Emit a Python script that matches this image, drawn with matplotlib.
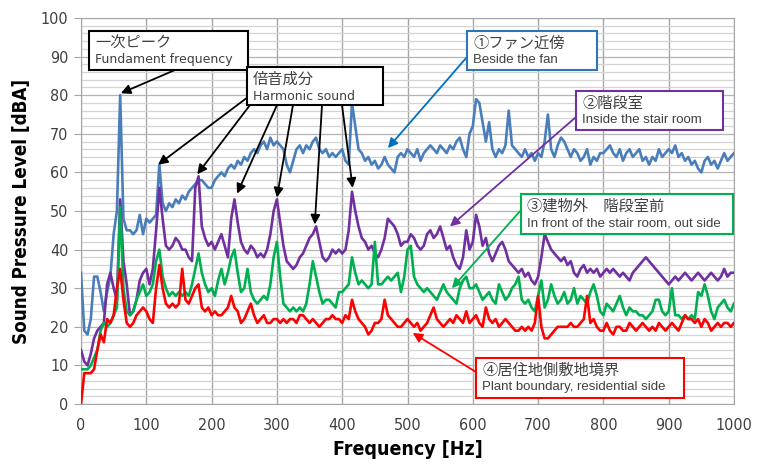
import matplotlib.pyplot as plt
import numpy as np
from matplotlib.patches import Rectangle

# frequency grid, 5 Hz steps
freq = np.arange(0, 1001, 5)

# ① beside the fan
fan = [34, 19, 18, 22, 33, 33, 29, 24, 29, 33, 44, 50, 80, 48, 45, 45, 44, 45, 49, 44,
       48, 47, 48, 49, 62, 52, 50, 52, 51, 53, 52, 54, 53, 55, 56, 57, 58, 58, 57, 56,
       56, 58, 59, 60, 59, 61, 62, 61, 63, 62, 64, 63, 65, 66, 65, 67, 68, 66, 69, 67,
       68, 67, 66, 62, 60, 63, 66, 67, 65, 67, 66, 68, 69, 66, 65, 66, 64, 65, 64, 65,
       66, 63, 62, 78, 72, 66, 65, 63, 64, 62, 63, 61, 62, 64, 62, 61, 60, 64, 65, 64,
       66, 65, 64, 66, 63, 65, 66, 67, 66, 65, 67, 66, 65, 67, 66, 68, 69, 66, 64, 70,
       72, 79, 78, 73, 68, 73, 66, 64, 66, 65, 67, 76, 67, 66, 65, 64, 66, 64, 65, 63,
       65, 64, 68, 75, 66, 64, 67, 69, 68, 66, 64, 66, 65, 63, 64, 66, 62, 64, 63, 65,
       65, 66, 67, 65, 64, 66, 63, 65, 66, 64, 65, 66, 63, 64, 62, 64, 63, 66, 64, 65,
       66, 65, 67, 64, 65, 63, 64, 62, 63, 61, 60, 63, 64, 62, 63, 61, 63, 65, 63, 64,
       65]

# ② inside the stair room
stair = [14, 11, 10, 13, 17, 19, 20, 21, 31, 34, 30, 27, 53, 37, 31, 23, 24, 27, 32, 34,
         35, 31, 35, 45, 56, 48, 41, 40, 41, 43, 42, 40, 40, 38, 37, 56, 59, 46, 43, 41,
         42, 40, 42, 44, 41, 38, 48, 53, 47, 42, 40, 39, 41, 40, 38, 39, 38, 40, 44, 50,
         53, 47, 41, 37, 36, 35, 36, 38, 39, 41, 43, 44, 46, 42, 38, 37, 38, 40, 39, 40,
         39, 40, 45, 55, 50, 46, 43, 42, 40, 41, 39, 38, 40, 43, 48, 47, 46, 44, 41, 42,
         42, 44, 43, 41, 40, 41, 44, 45, 43, 44, 46, 43, 40, 41, 38, 36, 35, 38, 45, 40,
         42, 49, 46, 41, 43, 39, 37, 39, 41, 42, 40, 37, 36, 35, 34, 35, 33, 34, 32, 31,
         33, 38, 44, 42, 40, 39, 38, 37, 38, 36, 37, 34, 33, 35, 36, 34, 35, 34, 35, 33,
         34, 35, 34, 35, 34, 33, 34, 33, 32, 34, 35, 36, 37, 38, 37, 36, 35, 34, 33, 32,
         31, 32, 33, 32, 33, 34, 33, 32, 33, 34, 33, 32, 33, 34, 33, 32, 33, 35, 33, 34,
         34]

# ③ outside, in front of the stair room
outside = [9, 9, 9, 10, 12, 14, 19, 21, 20, 21, 23, 25, 51, 30, 24, 23, 24, 27, 29, 31,
           28, 29, 31, 37, 40, 33, 30, 28, 29, 28, 29, 28, 29, 28, 31, 35, 39, 34, 31, 29,
           30, 28, 32, 35, 31, 34, 38, 40, 34, 29, 30, 35, 29, 27, 26, 27, 28, 27, 31, 38,
           42, 33, 26, 25, 24, 25, 24, 25, 24, 26, 31, 37, 33, 29, 26, 27, 27, 26, 25, 29,
           29, 30, 31, 38, 34, 31, 32, 31, 30, 31, 42, 31, 31, 32, 33, 32, 33, 34, 29, 33,
           40, 41, 33, 31, 30, 29, 30, 29, 28, 27, 29, 31, 29, 28, 27, 26, 30, 32, 33, 30,
           30, 31, 29, 27, 28, 29, 27, 26, 31, 29, 27, 28, 30, 31, 33, 27, 26, 27, 25, 24,
           28, 32, 25, 27, 31, 28, 26, 27, 29, 26, 27, 30, 26, 28, 27, 26, 29, 31, 28, 24,
           23, 26, 25, 24, 26, 28, 25, 23, 25, 24, 24, 23, 23, 22, 23, 24, 27, 27, 24, 23,
           24, 30, 23, 23, 22, 23, 22, 23, 22, 29, 28, 31, 28, 24, 22, 25, 26, 27, 25, 24,
           26]

# ④ plant boundary, residential side
boundary = [0, 8, 8, 8, 9, 14, 18, 16, 22, 21, 23, 30, 35, 27, 21, 20, 21, 23, 24, 25,
            24, 22, 21, 30, 36, 30, 26, 25, 26, 25, 26, 35, 27, 26, 28, 30, 31, 25, 24, 25,
            23, 24, 23, 23, 24, 25, 28, 25, 24, 21, 22, 24, 26, 23, 21, 22, 23, 21, 21, 22,
            22, 21, 22, 21, 22, 22, 21, 23, 23, 22, 21, 22, 21, 20, 21, 22, 22, 23, 22, 22,
            21, 23, 22, 27, 24, 22, 21, 20, 18, 19, 21, 21, 22, 27, 23, 22, 21, 20, 20, 21,
            22, 21, 20, 21, 19, 20, 21, 23, 25, 22, 21, 20, 21, 22, 21, 23, 22, 21, 24, 21,
            22, 23, 21, 20, 25, 22, 21, 22, 20, 21, 22, 21, 20, 19, 19, 20, 19, 20, 19, 21,
            28, 20, 17, 17, 18, 19, 20, 20, 20, 20, 21, 20, 20, 21, 22, 28, 21, 22, 20, 19,
            19, 21, 19, 18, 20, 20, 19, 19, 21, 20, 19, 20, 21, 20, 19, 20, 19, 21, 20, 19,
            20, 21, 20, 19, 21, 23, 22, 22, 21, 22, 20, 22, 21, 19, 20, 21, 20, 21, 21, 20,
            21]

W, H = 763, 465
fig = plt.figure(figsize=(W / 100, H / 100), dpi=100)
ax = fig.add_axes([81 / W, 61 / H, 653 / W, 386 / H])

ax.plot(freq, fan, color='#4a7ebb', lw=1.9, zorder=3)
ax.plot(freq, stair, color='#7030a0', lw=1.9, zorder=3)
ax.plot(freq, outside, color='#00b050', lw=1.9, zorder=3)
ax.plot(freq, boundary, color='#ff0000', lw=1.9, zorder=3)

ax.set_xlim(0, 1000)
ax.set_ylim(0, 100)
ax.set_xticks(np.arange(0, 1001, 100))
ax.set_yticks(np.arange(0, 101, 10))
ax.set_yticks(np.arange(0, 101, 2), minor=True)
ax.grid(axis='x', which='major', color='#a6a6a6', lw=1.0)
ax.grid(axis='y', which='major', color='#b4b4b4', lw=0.9)
ax.grid(axis='y', which='minor', color='#d4d4d4', lw=0.9)
ax.set_axisbelow(True)
for s in ax.spines.values():
    s.set_color('#a6a6a6')
ax.tick_params(axis='x', length=0, pad=10, labelsize=11.5, labelcolor='#404040')
ax.tick_params(axis='y', which='major', length=5, color='#a6a6a6', pad=4,
               labelsize=11.5, labelcolor='#404040')
ax.tick_params(axis='y', which='minor', length=0)
for lab in ax.get_xticklabels() + ax.get_yticklabels():
    lab.set_fontstretch('condensed')

ax.set_xlabel('Frequency [Hz]', fontsize=14, fontweight='bold',
              fontstretch='condensed', labelpad=5)
ax.set_ylabel('Sound Pressure Level [dBA]', fontsize=13.5, fontweight='bold',
              fontstretch='condensed', labelpad=7)


def fpx(x, y):
    return (x / W, 1 - y / H)


def callout(x0, y0, x1, y1, edge, jp, en, en_family, en_size):
    fig.patches.append(Rectangle(fpx(x0, y1), (x1 - x0) / W, (y1 - y0) / H,
                                 transform=fig.transFigure, facecolor='white',
                                 edgecolor=edge, lw=1.5, zorder=5))
    fig.text(*fpx(x0 + 6, y0 + 12), jp, family=['Noto Sans CJK JP', 'DejaVu Sans'],
             fontsize=11, color='#404040', va='center', ha='left', zorder=6)
    fig.text(*fpx(x0 + 6, y0 + 29), en, family=en_family, fontsize=en_size,
             color='#404040', va='center', ha='left', zorder=6)


def arrow(tip_f, tip_v, x, y, color):
    ax.annotate('', xy=(tip_f, tip_v), xycoords='data',
                xytext=fpx(x, y), textcoords='figure fraction',
                arrowprops=dict(arrowstyle='-|>', color=color, lw=1.3,
                                mutation_scale=14, shrinkA=0, shrinkB=0),
                zorder=7)


callout(89, 31, 248, 70, 'black', '一次ピーク', 'Fundament frequency', 'DejaVu Sans', 9)
arrow(61, 80.5, 175, 70, 'black')

callout(247, 67, 383, 105, 'black', '倍音成分', 'Harmonic sound', 'DejaVu Sans', 9)
arrow(118, 62, 248, 97, 'black')
arrow(178, 59.5, 250, 105, 'black')
arrow(239, 54.5, 277, 105, 'black')
arrow(300, 53.5, 293, 105, 'black')
arrow(358, 46.5, 322, 105, 'black')
arrow(416, 56, 342, 105, 'black')

callout(467, 31, 597, 70, '#2e75b6', '①ファン近傍', 'Beside the fan', 'Liberation Sans', 9.5)
arrow(470, 66.3, 467, 57, '#0070c0')

callout(576, 91, 723, 130, '#7030a0', '②階段室', 'Inside the stair room', 'Liberation Sans', 9.5)
arrow(565, 46, 576, 117, '#7030a0')

callout(521, 194, 733, 234, '#00b050', '③建物外　階段室前',
        'In front of the stair room, out side', 'Liberation Sans', 9.5)
arrow(568, 30, 521, 210, '#00b050')

callout(476, 358, 684, 398, '#ff0000', '④居住地側敷地境界',
        'Plant boundary, residential side', 'Liberation Sans', 9.5)
arrow(508, 18.4, 476, 372, '#ff0000')

fig.savefig('out.png', dpi=100)
